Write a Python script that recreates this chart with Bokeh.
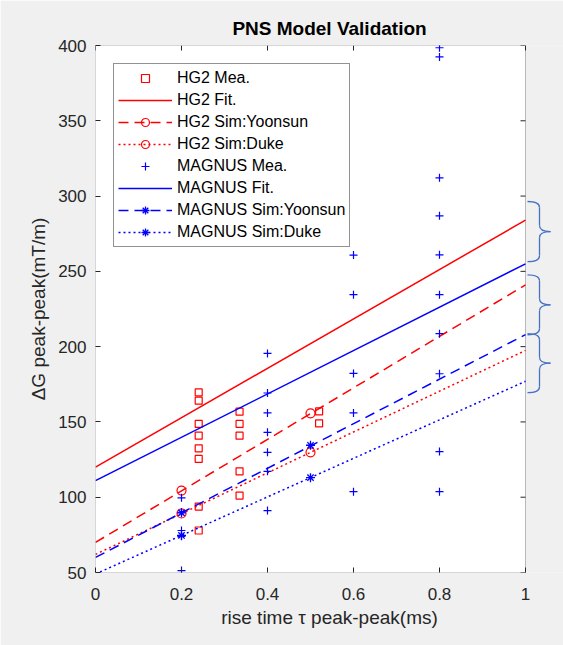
from bokeh.plotting import figure
from bokeh.models import Range1d, FixedTicker, BoxAnnotation, Legend, LegendItem
from bokeh.embed import file_html
from bokeh.resources import INLINE

# ---------------- data ----------------
x_ticks = [0, 0.2, 0.4, 0.6, 0.8, 1]
x_tick_labels = ["0", "0.2", "0.4", "0.6", "0.8", "1"]
y_ticks = [50, 100, 150, 200, 250, 300, 350, 400]

hg2_mea_x = [0.24, 0.24, 0.24, 0.24, 0.24, 0.24, 0.24, 0.24,
             0.335, 0.335, 0.335, 0.335, 0.335, 0.52, 0.52]
hg2_mea_y = [169.6, 164.1, 148.7, 140.9, 132.5, 125.4, 93.8, 77.9,
             156.8, 148.7, 140.9, 117.2, 101.1, 157.0, 149.1]

magnus_mea_x = [0.2, 0.2, 0.2, 0.2, 0.2,
                0.4, 0.4, 0.4, 0.4, 0.4, 0.4, 0.4,
                0.6, 0.6, 0.6, 0.6, 0.6,
                0.8, 0.8, 0.8, 0.8, 0.8, 0.8, 0.8, 0.8, 0.8, 0.8]
magnus_mea_y = [99.6, 90.0, 77.9, 74.0, 51.3,
                195.5, 169.2, 156.0, 143.1, 129.8, 117.2, 91.1,
                260.8, 234.5, 182.2, 156.0, 103.7,
                398.5, 392.4, 312.1, 286.9, 261.0, 234.5, 208.6, 182.0, 130.3, 103.7]

fit_x = [0.0, 1.0]
hg2_fit = [120.0, 284.0]
magnus_fit = [111.0, 255.0]
hg2_sim_yoonsun_line = [70.0, 241.0]
hg2_sim_duke_line = [62.0, 197.5]
magnus_sim_yoonsun_line = [60.0, 208.0]
magnus_sim_duke_line = [49.0, 177.0]

sim_x = [0.2, 0.5]
hg2_sim_yoonsun = [104.4, 155.7]
hg2_sim_duke = [89.2, 129.8]
magnus_sim_yoonsun = [89.6, 134.5]
magnus_sim_duke = [74.6, 113.0]

# curly braces on the right (top / bottom values)
brace_top = [296.4, 247.7, 208.6]
brace_bottom = [256.4, 207.9, 169.4]

# ---------------- style ----------------
FONT = "Liberation Sans"
AX = "#262626"
RED = "#ff0000"
BLUE = "#0000ff"
BRACE = "#4472c4"
GRAY = "#f0f0f0"

X0, X1 = 0.0, 1.0
Y0, Y1 = 50.0, 400.0
PX_PER_X = 430.0
PX_PER_Y = 527.0 / 350.0
FRAME_W = 468

p = figure(width=563, height=645, output_backend="svg", toolbar_location=None,
           x_range=Range1d(X0, FRAME_W / PX_PER_X), y_range=Range1d(Y0, Y1),
           min_border_left=95, min_border_right=0, min_border_top=45,
           min_border_bottom=73)
p.background_fill_color = GRAY
p.border_fill_color = GRAY
p.outline_line_color = None
p.grid.grid_line_color = None

p.title.text = "PNS Model Validation"
p.title.text_font = FONT
p.title.text_font_size = "19px"
p.title.text_font_style = "bold"
p.title.text_color = "#000000"
p.title.align = "center"
p.title.offset = -16
p.title.standoff = 13

# axes box
p.add_layout(BoxAnnotation(left=X0, right=X1, bottom=Y0, top=Y1,
                           fill_color="white", fill_alpha=1.0,
                           line_color=AX, line_width=1, level="underlay"))

for ax in [p.xaxis[0], p.yaxis[0]]:
    ax.axis_line_color = None
    ax.major_tick_in = 5
    ax.major_tick_out = 0
    ax.minor_tick_line_color = None
    ax.major_tick_line_color = AX
    ax.major_label_text_font = FONT
    ax.major_label_text_font_size = "17px"
    ax.major_label_text_color = AX
    ax.axis_label_text_font = FONT
    ax.axis_label_text_font_size = "19px"
    ax.axis_label_text_font_style = "normal"
    ax.axis_label_text_color = AX

p.xaxis.ticker = FixedTicker(ticks=x_ticks)
p.xaxis.major_label_overrides = {t: l for t, l in zip(x_ticks, x_tick_labels)}
p.xaxis.major_label_standoff = 15
p.xaxis.axis_label = "rise time \u03c4 peak-peak(ms)"
p.xaxis.axis_label_standoff = 4

p.yaxis.ticker = FixedTicker(ticks=y_ticks)
p.yaxis.major_label_standoff = 9
p.yaxis.axis_label = "\u0394G peak-peak(mT/m)"
p.yaxis.axis_label_standoff = 6

# inner ticks on the top edge and the right edge of the box
tick_dx = 5.0 / PX_PER_X
tick_dy = 5.0 / PX_PER_Y
p.segment(x0=x_ticks, y0=[Y1] * len(x_ticks), x1=x_ticks,
          y1=[Y1 - tick_dy] * len(x_ticks), line_color=AX, line_width=1)
p.segment(x0=[X1] * len(y_ticks), y0=y_ticks, x1=[X1 - tick_dx] * len(y_ticks),
          y1=y_ticks, line_color=AX, line_width=1)

# ---------------- glyphs ----------------
r_hg2_mea = p.scatter(hg2_mea_x, hg2_mea_y, marker="square", size=7,
                      line_color=RED, fill_color=None, line_width=1.2)
r_hg2_fit = p.line(fit_x, hg2_fit, line_color=RED, line_width=1.5)
l_hg2_y = p.line(fit_x, hg2_sim_yoonsun_line, line_color=RED, line_width=1.5,
                 line_dash="10 6")
s_hg2_y = p.scatter(sim_x, hg2_sim_yoonsun, marker="circle", size=9,
                    line_color=RED, fill_color=None, line_width=1.2)
l_hg2_d = p.line(fit_x, hg2_sim_duke_line, line_color=RED, line_width=1.5,
                 line_dash="2 3")
s_hg2_d = p.scatter(sim_x, hg2_sim_duke, marker="circle", size=9,
                    line_color=RED, fill_color=None, line_width=1.2)

r_mag_mea = p.scatter(magnus_mea_x, magnus_mea_y, marker="cross", size=8,
                      line_color=BLUE, line_width=1.2)
r_mag_fit = p.line(fit_x, magnus_fit, line_color=BLUE, line_width=1.5)
l_mag_y = p.line(fit_x, magnus_sim_yoonsun_line, line_color=BLUE, line_width=1.5,
                 line_dash="10 6")
s_mag_y = p.scatter(sim_x, magnus_sim_yoonsun, marker="asterisk", size=9,
                    line_color=BLUE, line_width=1.3)
l_mag_d = p.line(fit_x, magnus_sim_duke_line, line_color=BLUE, line_width=1.5,
                 line_dash="2 3")
s_mag_d = p.scatter(sim_x, magnus_sim_duke, marker="asterisk", size=9,
                    line_color=BLUE, line_width=1.3)

# ---------------- braces ----------------
bx0 = X1 + 2.0 / PX_PER_X
bx1 = X1 + 14.0 / PX_PER_X
bx2 = X1 + 25.0 / PX_PER_X
rr = 4.0
qx0, qy0, qx1, qy1, qcx, qcy = [], [], [], [], [], []
sx0, sy0, sx1, sy1 = [], [], [], []
for t, b in zip(brace_top, brace_bottom):
    m = (t + b) / 2.0
    for (a, c, e) in [((bx0, t), (bx1, t), (bx1, t - rr)),
                      ((bx1, m + rr), (bx1, m), (bx2, m)),
                      ((bx2, m), (bx1, m), (bx1, m - rr)),
                      ((bx1, b + rr), (bx1, b), (bx0, b))]:
        qx0.append(a[0]); qy0.append(a[1])
        qcx.append(c[0]); qcy.append(c[1])
        qx1.append(e[0]); qy1.append(e[1])
    sx0 += [bx1, bx1]; sy0 += [t - rr, m - rr]
    sx1 += [bx1, bx1]; sy1 += [m + rr, b + rr]
p.quadratic(x0=qx0, y0=qy0, x1=qx1, y1=qy1, cx=qcx, cy=qcy,
            line_color=BRACE, line_width=1.3)
p.segment(x0=sx0, y0=sy0, x1=sx1, y1=sy1, line_color=BRACE, line_width=1.3)

# ---------------- legend ----------------
items = [
    LegendItem(label="HG2 Mea.", renderers=[r_hg2_mea]),
    LegendItem(label="HG2 Fit.", renderers=[r_hg2_fit]),
    LegendItem(label="HG2 Sim:Yoonsun", renderers=[l_hg2_y, s_hg2_y]),
    LegendItem(label="HG2 Sim:Duke", renderers=[l_hg2_d, s_hg2_d]),
    LegendItem(label="MAGNUS Mea.", renderers=[r_mag_mea]),
    LegendItem(label="MAGNUS Fit.", renderers=[r_mag_fit]),
    LegendItem(label="MAGNUS Sim:Yoonsun", renderers=[l_mag_y, s_mag_y]),
    LegendItem(label="MAGNUS Sim:Duke", renderers=[l_mag_d, s_mag_d]),
]
legend = Legend(items=items, location="top_left")
legend.margin = 18
legend.padding = 4
legend.spacing = 2
legend.glyph_width = 54
legend.glyph_height = 20
legend.label_height = 20
legend.label_standoff = 5
legend.label_text_font = FONT
legend.label_text_font_size = "16px"
legend.label_text_color = "#000000"
legend.border_line_color = AX
legend.border_line_width = 1
legend.background_fill_color = "white"
legend.background_fill_alpha = 1.0
p.add_layout(legend)

open("out.html", "w").write(file_html(p, INLINE))
